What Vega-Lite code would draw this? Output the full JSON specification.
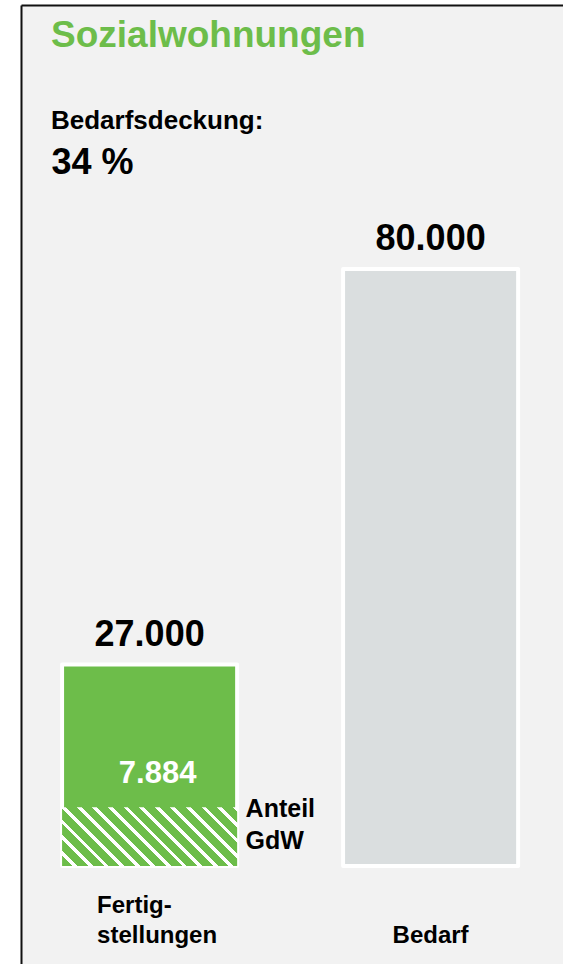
{
  "$schema": "https://vega.github.io/schema/vega-lite/v6.json",
  "width": 542,
  "height": 959,
  "autosize": {"type": "none"},
  "padding": {"left": 21, "top": 5, "right": 0, "bottom": 0},
  "background": "white",
  "config": {
    "view": {"fill": "#f2f2f2", "stroke": null},
    "font": "Liberation Sans",
    "text": {"font": "Liberation Sans", "fontWeight": "bold"}
  },
  "title": {
    "text": "Sozialwohnungen",
    "subtitle": "Bedarfsdeckung:",
    "anchor": "start",
    "frame": "group",
    "orient": "top",
    "dx": 30,
    "offset": -130,
    "font": "Liberation Sans",
    "fontSize": 37,
    "fontWeight": "bold",
    "color": "#6dbd4a",
    "subtitleFont": "Liberation Sans",
    "subtitleFontSize": 26,
    "subtitleFontWeight": "bold",
    "subtitleColor": "#000000",
    "subtitlePadding": 53
  },
  "datasets": {
    "balken": [
      {"kategorie": "Fertigstellungen", "wert": 27000, "label": "27.000"},
      {"kategorie": "Bedarf", "wert": 80000, "label": "80.000"}
    ],
    "anteil": [
      {"kategorie": "Fertigstellungen", "wert": 7884, "label": "7.884", "beschriftung": "Anteil GdW"}
    ]
  },
  "encoding": {
    "x": {
      "field": "kategorie",
      "type": "nominal",
      "sort": ["Fertigstellungen", "Bedarf"],
      "scale": {"paddingInner": 0.377, "paddingOuter": 0.1529, "align": 0.478},
      "axis": {
        "title": null,
        "offset": -959,
        "domain": true,
        "domainColor": "#111111",
        "domainWidth": 2,
        "ticks": false,
        "grid": false,
        "labelAngle": 0,
        "labelFont": "Liberation Sans",
        "labelFontSize": 24,
        "labelFontWeight": "bold",
        "labelColor": "#000000",
        "labelLineHeight": 30,
        "labelBaseline": "alphabetic",
        "labelPadding": 907,
        "labelExpr": "datum.value == 'Fertigstellungen' ? ['Fertig-', 'stellungen'] : ['', datum.value]",
        "labelAlign": {"condition": {"test": "datum.value === 'Fertigstellungen'", "value": "left"}, "value": "center"},
        "labelOffset": {"condition": {"test": "datum.value === 'Fertigstellungen'", "value": -52.5}, "value": 0}
      }
    },
    "y": {
      "field": "wert",
      "type": "quantitative",
      "scale": {"domain": [-13132, 115377], "zero": false, "nice": false},
      "axis": {
        "title": "34 %",
        "labels": false,
        "ticks": false,
        "domain": true,
        "domainColor": "#111111",
        "domainWidth": 2,
        "grid": false,
        "titleAngle": 0,
        "titleX": 30,
        "titleY": 168,
        "titleAlign": "left",
        "titleBaseline": "alphabetic",
        "titleFont": "Liberation Sans",
        "titleFontSize": 36,
        "titleFontWeight": "bold",
        "titleColor": "#000000"
      }
    }
  },
  "layer": [
    {
      "data": {"name": "balken"},
      "mark": {"type": "bar", "stroke": "white", "strokeWidth": 4, "strokeJoin": "round"},
      "encoding": {
        "y2": {"datum": 0},
        "color": {
          "field": "kategorie",
          "type": "nominal",
          "scale": {"domain": ["Fertigstellungen", "Bedarf"], "range": ["#6dbd4a", "#dadedf"]},
          "legend": null
        }
      }
    },
    {
      "data": {"name": "anteil"},
      "mark": {
        "type": "bar",
        "fill": {
          "gradient": "linear",
          "x1": 0, "y1": 1, "x2": 1.2005, "y2": 0.5966,
          "stops": [
            {"offset": 0, "color": "#6dbd4a"}, {"offset": 0.0467, "color": "#6dbd4a"}, {"offset": 0.0467, "color": "#ffffff"}, {"offset": 0.0667, "color": "#ffffff"},
            {"offset": 0.0667, "color": "#6dbd4a"}, {"offset": 0.1133, "color": "#6dbd4a"}, {"offset": 0.1133, "color": "#ffffff"}, {"offset": 0.1333, "color": "#ffffff"},
            {"offset": 0.1333, "color": "#6dbd4a"}, {"offset": 0.18, "color": "#6dbd4a"}, {"offset": 0.18, "color": "#ffffff"}, {"offset": 0.2, "color": "#ffffff"},
            {"offset": 0.2, "color": "#6dbd4a"}, {"offset": 0.2467, "color": "#6dbd4a"}, {"offset": 0.2467, "color": "#ffffff"}, {"offset": 0.2667, "color": "#ffffff"},
            {"offset": 0.2667, "color": "#6dbd4a"}, {"offset": 0.3133, "color": "#6dbd4a"}, {"offset": 0.3133, "color": "#ffffff"}, {"offset": 0.3333, "color": "#ffffff"},
            {"offset": 0.3333, "color": "#6dbd4a"}, {"offset": 0.38, "color": "#6dbd4a"}, {"offset": 0.38, "color": "#ffffff"}, {"offset": 0.4, "color": "#ffffff"},
            {"offset": 0.4, "color": "#6dbd4a"}, {"offset": 0.4467, "color": "#6dbd4a"}, {"offset": 0.4467, "color": "#ffffff"}, {"offset": 0.4667, "color": "#ffffff"},
            {"offset": 0.4667, "color": "#6dbd4a"}, {"offset": 0.5133, "color": "#6dbd4a"}, {"offset": 0.5133, "color": "#ffffff"}, {"offset": 0.5333, "color": "#ffffff"},
            {"offset": 0.5333, "color": "#6dbd4a"}, {"offset": 0.58, "color": "#6dbd4a"}, {"offset": 0.58, "color": "#ffffff"}, {"offset": 0.6, "color": "#ffffff"},
            {"offset": 0.6, "color": "#6dbd4a"}, {"offset": 0.6467, "color": "#6dbd4a"}, {"offset": 0.6467, "color": "#ffffff"}, {"offset": 0.6667, "color": "#ffffff"},
            {"offset": 0.6667, "color": "#6dbd4a"}, {"offset": 0.7133, "color": "#6dbd4a"}, {"offset": 0.7133, "color": "#ffffff"}, {"offset": 0.7333, "color": "#ffffff"},
            {"offset": 0.7333, "color": "#6dbd4a"}, {"offset": 0.78, "color": "#6dbd4a"}, {"offset": 0.78, "color": "#ffffff"}, {"offset": 0.8, "color": "#ffffff"},
            {"offset": 0.8, "color": "#6dbd4a"}, {"offset": 0.8467, "color": "#6dbd4a"}, {"offset": 0.8467, "color": "#ffffff"}, {"offset": 0.8667, "color": "#ffffff"},
            {"offset": 0.8667, "color": "#6dbd4a"}, {"offset": 0.9133, "color": "#6dbd4a"}, {"offset": 0.9133, "color": "#ffffff"}, {"offset": 0.9333, "color": "#ffffff"},
            {"offset": 0.9333, "color": "#6dbd4a"}, {"offset": 0.98, "color": "#6dbd4a"}, {"offset": 0.98, "color": "#ffffff"}, {"offset": 1, "color": "#ffffff"}
          ]
        }
      },
      "encoding": {"y2": {"datum": 0}}
    },
    {
      "data": {"name": "balken"},
      "mark": {"type": "text", "baseline": "alphabetic", "dy": -19, "fontSize": 36, "color": "#000000"},
      "encoding": {"text": {"field": "label"}}
    },
    {
      "data": {"name": "anteil"},
      "mark": {"type": "text", "baseline": "alphabetic", "dx": 8, "dy": -24, "fontSize": 31, "color": "#ffffff"},
      "encoding": {"text": {"field": "label"}}
    },
    {
      "data": {"name": "anteil"},
      "mark": {"type": "text", "align": "left", "baseline": "alphabetic", "dx": 96, "dy": 10, "fontSize": 25, "lineBreak": " ", "lineHeight": 32, "color": "#000000"},
      "encoding": {"text": {"field": "beschriftung"}}
    }
  ]
}
